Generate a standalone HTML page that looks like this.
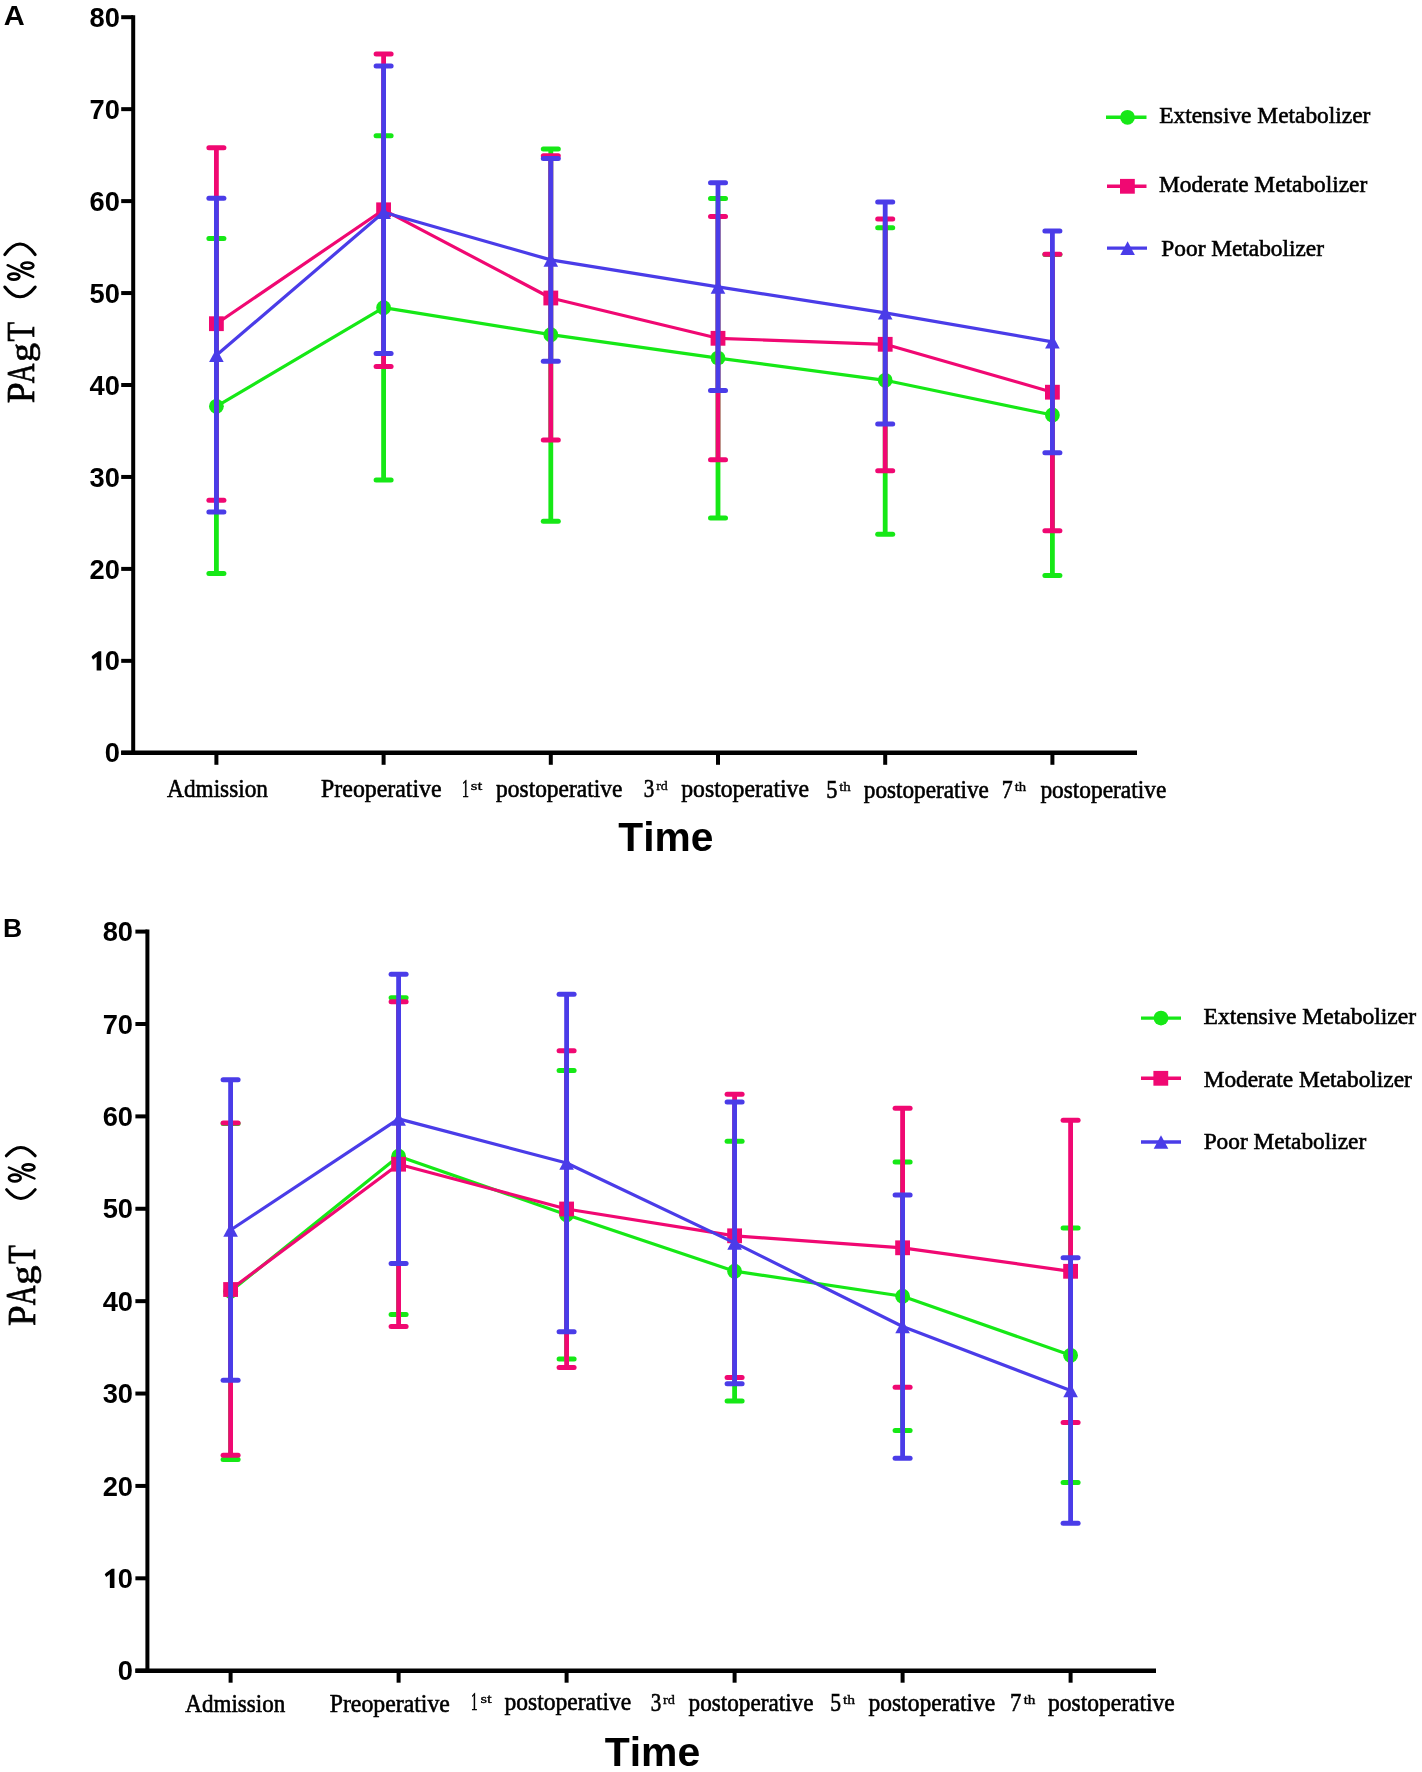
<!DOCTYPE html><html><head><meta charset="utf-8"><title>PAgT chart</title><style>html,body{margin:0;padding:0;background:#fff;}svg{display:block;filter:blur(0.35px);}text{font-kerning:none;font-variant-ligatures:none;}</style></head><body>
<svg width="1422" height="1772" viewBox="0 0 1422 1772">
<rect width="1422" height="1772" fill="#fff"/>
<g stroke="#000" stroke-width="4" fill="none">
<line x1="133.2" y1="15.2" x2="133.2" y2="754.8"/>
<line x1="121.2" y1="752.8" x2="1137" y2="752.8" stroke-width="4.6"/>
<line x1="121.2" y1="752.8" x2="133.2" y2="752.8"/>
<line x1="121.2" y1="660.85" x2="133.2" y2="660.85"/>
<line x1="121.2" y1="568.9" x2="133.2" y2="568.9"/>
<line x1="121.2" y1="476.95" x2="133.2" y2="476.95"/>
<line x1="121.2" y1="385" x2="133.2" y2="385"/>
<line x1="121.2" y1="293.05" x2="133.2" y2="293.05"/>
<line x1="121.2" y1="201.1" x2="133.2" y2="201.1"/>
<line x1="121.2" y1="109.15" x2="133.2" y2="109.15"/>
<line x1="121.2" y1="17.2" x2="133.2" y2="17.2"/>
<line x1="216.4" y1="752.8" x2="216.4" y2="764.8"/>
<line x1="383.6" y1="752.8" x2="383.6" y2="764.8"/>
<line x1="550.8" y1="752.8" x2="550.8" y2="764.8"/>
<line x1="718" y1="752.8" x2="718" y2="764.8"/>
<line x1="885.2" y1="752.8" x2="885.2" y2="764.8"/>
<line x1="1052.4" y1="752.8" x2="1052.4" y2="764.8"/>
</g>
<text transform="translate(104.64,762.4) scale(1.0000,1)" font-family='"Liberation Sans", sans-serif' font-weight="bold" font-size="27.3" fill="#000">0</text>
<text transform="translate(104.64,670.45) scale(1.0000,1)" font-family='"Liberation Sans", sans-serif' font-weight="bold" font-size="27.3" fill="#000">0</text>
<path d="M101.25,651.34 L101.25,670.45 L96.65,670.45 L96.65,656.74 L93.05,659.64 L91.55,656.94 L92.65,655.54 L98.65,651.34Z" fill="#000"/>
<text transform="translate(89.45,578.5) scale(1.0000,1)" font-family='"Liberation Sans", sans-serif' font-weight="bold" font-size="27.3" fill="#000">20</text>
<text transform="translate(89.45,486.55) scale(1.0000,1)" font-family='"Liberation Sans", sans-serif' font-weight="bold" font-size="27.3" fill="#000">30</text>
<text transform="translate(89.45,394.6) scale(1.0000,1)" font-family='"Liberation Sans", sans-serif' font-weight="bold" font-size="27.3" fill="#000">40</text>
<text transform="translate(89.45,302.65) scale(1.0000,1)" font-family='"Liberation Sans", sans-serif' font-weight="bold" font-size="27.3" fill="#000">50</text>
<text transform="translate(89.45,210.7) scale(1.0000,1)" font-family='"Liberation Sans", sans-serif' font-weight="bold" font-size="27.3" fill="#000">60</text>
<text transform="translate(89.45,118.75) scale(1.0000,1)" font-family='"Liberation Sans", sans-serif' font-weight="bold" font-size="27.3" fill="#000">70</text>
<text transform="translate(89.45,26.8) scale(1.0000,1)" font-family='"Liberation Sans", sans-serif' font-weight="bold" font-size="27.3" fill="#000">80</text>
<g>
<line x1="216.4" y1="238.5" x2="216.4" y2="573.4" stroke="#16e816" stroke-width="4.8"/>
<line x1="208.9" y1="238.5" x2="223.9" y2="238.5" stroke="#16e816" stroke-width="5" stroke-linecap="round"/>
<line x1="208.9" y1="573.4" x2="223.9" y2="573.4" stroke="#16e816" stroke-width="5" stroke-linecap="round"/>
<line x1="383.6" y1="135.7" x2="383.6" y2="480.1" stroke="#16e816" stroke-width="4.8"/>
<line x1="376.1" y1="135.7" x2="391.1" y2="135.7" stroke="#16e816" stroke-width="5" stroke-linecap="round"/>
<line x1="376.1" y1="480.1" x2="391.1" y2="480.1" stroke="#16e816" stroke-width="5" stroke-linecap="round"/>
<line x1="550.8" y1="149.1" x2="550.8" y2="521.2" stroke="#16e816" stroke-width="4.8"/>
<line x1="543.3" y1="149.1" x2="558.3" y2="149.1" stroke="#16e816" stroke-width="5" stroke-linecap="round"/>
<line x1="543.3" y1="521.2" x2="558.3" y2="521.2" stroke="#16e816" stroke-width="5" stroke-linecap="round"/>
<line x1="718" y1="198.4" x2="718" y2="517.9" stroke="#16e816" stroke-width="4.8"/>
<line x1="710.5" y1="198.4" x2="725.5" y2="198.4" stroke="#16e816" stroke-width="5" stroke-linecap="round"/>
<line x1="710.5" y1="517.9" x2="725.5" y2="517.9" stroke="#16e816" stroke-width="5" stroke-linecap="round"/>
<line x1="885.2" y1="227.7" x2="885.2" y2="534.3" stroke="#16e816" stroke-width="4.8"/>
<line x1="877.7" y1="227.7" x2="892.7" y2="227.7" stroke="#16e816" stroke-width="5" stroke-linecap="round"/>
<line x1="877.7" y1="534.3" x2="892.7" y2="534.3" stroke="#16e816" stroke-width="5" stroke-linecap="round"/>
<line x1="1052.4" y1="254.5" x2="1052.4" y2="575.5" stroke="#16e816" stroke-width="4.8"/>
<line x1="1044.9" y1="254.5" x2="1059.9" y2="254.5" stroke="#16e816" stroke-width="5" stroke-linecap="round"/>
<line x1="1044.9" y1="575.5" x2="1059.9" y2="575.5" stroke="#16e816" stroke-width="5" stroke-linecap="round"/>
<polyline points="216.4,406.3 383.6,307.7 550.8,334.7 718,358.1 885.2,380.3 1052.4,415" fill="none" stroke="#16e816" stroke-width="3.2" stroke-linejoin="round"/>
<circle cx="216.4" cy="406.3" r="7.4" fill="#16e816"/>
<circle cx="383.6" cy="307.7" r="7.4" fill="#16e816"/>
<circle cx="550.8" cy="334.7" r="7.4" fill="#16e816"/>
<circle cx="718" cy="358.1" r="7.4" fill="#16e816"/>
<circle cx="885.2" cy="380.3" r="7.4" fill="#16e816"/>
<circle cx="1052.4" cy="415" r="7.4" fill="#16e816"/>
</g>
<g>
<line x1="216.4" y1="147.7" x2="216.4" y2="500.3" stroke="#f00872" stroke-width="4.8"/>
<line x1="208.9" y1="147.7" x2="223.9" y2="147.7" stroke="#f00872" stroke-width="5" stroke-linecap="round"/>
<line x1="208.9" y1="500.3" x2="223.9" y2="500.3" stroke="#f00872" stroke-width="5" stroke-linecap="round"/>
<line x1="383.6" y1="53.9" x2="383.6" y2="366.4" stroke="#f00872" stroke-width="4.8"/>
<line x1="376.1" y1="53.9" x2="391.1" y2="53.9" stroke="#f00872" stroke-width="5" stroke-linecap="round"/>
<line x1="376.1" y1="366.4" x2="391.1" y2="366.4" stroke="#f00872" stroke-width="5" stroke-linecap="round"/>
<line x1="550.8" y1="155.7" x2="550.8" y2="440.1" stroke="#f00872" stroke-width="4.8"/>
<line x1="543.3" y1="155.7" x2="558.3" y2="155.7" stroke="#f00872" stroke-width="5" stroke-linecap="round"/>
<line x1="543.3" y1="440.1" x2="558.3" y2="440.1" stroke="#f00872" stroke-width="5" stroke-linecap="round"/>
<line x1="718" y1="216.5" x2="718" y2="459.8" stroke="#f00872" stroke-width="4.8"/>
<line x1="710.5" y1="216.5" x2="725.5" y2="216.5" stroke="#f00872" stroke-width="5" stroke-linecap="round"/>
<line x1="710.5" y1="459.8" x2="725.5" y2="459.8" stroke="#f00872" stroke-width="5" stroke-linecap="round"/>
<line x1="885.2" y1="218.9" x2="885.2" y2="470.7" stroke="#f00872" stroke-width="4.8"/>
<line x1="877.7" y1="218.9" x2="892.7" y2="218.9" stroke="#f00872" stroke-width="5" stroke-linecap="round"/>
<line x1="877.7" y1="470.7" x2="892.7" y2="470.7" stroke="#f00872" stroke-width="5" stroke-linecap="round"/>
<line x1="1052.4" y1="254.3" x2="1052.4" y2="530.8" stroke="#f00872" stroke-width="4.8"/>
<line x1="1044.9" y1="254.3" x2="1059.9" y2="254.3" stroke="#f00872" stroke-width="5" stroke-linecap="round"/>
<line x1="1044.9" y1="530.8" x2="1059.9" y2="530.8" stroke="#f00872" stroke-width="5" stroke-linecap="round"/>
<polyline points="216.4,323.7 383.6,209.8 550.8,298 718,338.3 885.2,344.3 1052.4,392.2" fill="none" stroke="#f00872" stroke-width="3.2" stroke-linejoin="round"/>
<rect x="209" y="316.3" width="14.8" height="14.8" fill="#f00872"/>
<rect x="376.2" y="202.4" width="14.8" height="14.8" fill="#f00872"/>
<rect x="543.4" y="290.6" width="14.8" height="14.8" fill="#f00872"/>
<rect x="710.6" y="330.9" width="14.8" height="14.8" fill="#f00872"/>
<rect x="877.8" y="336.9" width="14.8" height="14.8" fill="#f00872"/>
<rect x="1045" y="384.8" width="14.8" height="14.8" fill="#f00872"/>
</g>
<g>
<line x1="216.4" y1="198.3" x2="216.4" y2="512" stroke="#4a3ce8" stroke-width="4.8"/>
<line x1="208.9" y1="198.3" x2="223.9" y2="198.3" stroke="#4a3ce8" stroke-width="5" stroke-linecap="round"/>
<line x1="208.9" y1="512" x2="223.9" y2="512" stroke="#4a3ce8" stroke-width="5" stroke-linecap="round"/>
<line x1="383.6" y1="66.1" x2="383.6" y2="353.6" stroke="#4a3ce8" stroke-width="4.8"/>
<line x1="376.1" y1="66.1" x2="391.1" y2="66.1" stroke="#4a3ce8" stroke-width="5" stroke-linecap="round"/>
<line x1="376.1" y1="353.6" x2="391.1" y2="353.6" stroke="#4a3ce8" stroke-width="5" stroke-linecap="round"/>
<line x1="550.8" y1="158.6" x2="550.8" y2="361.2" stroke="#4a3ce8" stroke-width="4.8"/>
<line x1="543.3" y1="158.6" x2="558.3" y2="158.6" stroke="#4a3ce8" stroke-width="5" stroke-linecap="round"/>
<line x1="543.3" y1="361.2" x2="558.3" y2="361.2" stroke="#4a3ce8" stroke-width="5" stroke-linecap="round"/>
<line x1="718" y1="182.7" x2="718" y2="390.5" stroke="#4a3ce8" stroke-width="4.8"/>
<line x1="710.5" y1="182.7" x2="725.5" y2="182.7" stroke="#4a3ce8" stroke-width="5" stroke-linecap="round"/>
<line x1="710.5" y1="390.5" x2="725.5" y2="390.5" stroke="#4a3ce8" stroke-width="5" stroke-linecap="round"/>
<line x1="885.2" y1="202" x2="885.2" y2="424" stroke="#4a3ce8" stroke-width="4.8"/>
<line x1="877.7" y1="202" x2="892.7" y2="202" stroke="#4a3ce8" stroke-width="5" stroke-linecap="round"/>
<line x1="877.7" y1="424" x2="892.7" y2="424" stroke="#4a3ce8" stroke-width="5" stroke-linecap="round"/>
<line x1="1052.4" y1="231.1" x2="1052.4" y2="452.8" stroke="#4a3ce8" stroke-width="4.8"/>
<line x1="1044.9" y1="231.1" x2="1059.9" y2="231.1" stroke="#4a3ce8" stroke-width="5" stroke-linecap="round"/>
<line x1="1044.9" y1="452.8" x2="1059.9" y2="452.8" stroke="#4a3ce8" stroke-width="5" stroke-linecap="round"/>
<polyline points="216.4,355.2 383.6,212.3 550.8,259.9 718,286.9 885.2,312.8 1052.4,341.8" fill="none" stroke="#4a3ce8" stroke-width="3.2" stroke-linejoin="round"/>
<path d="M216.4,348.4 L223.7,362 L209.1,362Z" fill="#4a3ce8"/>
<path d="M383.6,205.5 L390.9,219.1 L376.3,219.1Z" fill="#4a3ce8"/>
<path d="M550.8,253.1 L558.1,266.7 L543.5,266.7Z" fill="#4a3ce8"/>
<path d="M718,280.1 L725.3,293.7 L710.7,293.7Z" fill="#4a3ce8"/>
<path d="M885.2,306 L892.5,319.6 L877.9,319.6Z" fill="#4a3ce8"/>
<path d="M1052.4,335 L1059.7,348.6 L1045.1,348.6Z" fill="#4a3ce8"/>
</g>
<g stroke="#000" stroke-width="4" fill="none">
<line x1="147.4" y1="929.6" x2="147.4" y2="1672.7"/>
<line x1="135.4" y1="1670.7" x2="1156" y2="1670.7" stroke-width="4.6"/>
<line x1="135.4" y1="1670.7" x2="147.4" y2="1670.7"/>
<line x1="135.4" y1="1578.31" x2="147.4" y2="1578.31"/>
<line x1="135.4" y1="1485.93" x2="147.4" y2="1485.93"/>
<line x1="135.4" y1="1393.54" x2="147.4" y2="1393.54"/>
<line x1="135.4" y1="1301.15" x2="147.4" y2="1301.15"/>
<line x1="135.4" y1="1208.76" x2="147.4" y2="1208.76"/>
<line x1="135.4" y1="1116.38" x2="147.4" y2="1116.38"/>
<line x1="135.4" y1="1023.99" x2="147.4" y2="1023.99"/>
<line x1="135.4" y1="931.6" x2="147.4" y2="931.6"/>
<line x1="230.6" y1="1670.7" x2="230.6" y2="1682.7"/>
<line x1="398.6" y1="1670.7" x2="398.6" y2="1682.7"/>
<line x1="566.6" y1="1670.7" x2="566.6" y2="1682.7"/>
<line x1="734.6" y1="1670.7" x2="734.6" y2="1682.7"/>
<line x1="902.6" y1="1670.7" x2="902.6" y2="1682.7"/>
<line x1="1070.6" y1="1670.7" x2="1070.6" y2="1682.7"/>
</g>
<text transform="translate(117.84,1680.3) scale(1.0000,1)" font-family='"Liberation Sans", sans-serif' font-weight="bold" font-size="27.3" fill="#000">0</text>
<text transform="translate(117.84,1587.91) scale(1.0000,1)" font-family='"Liberation Sans", sans-serif' font-weight="bold" font-size="27.3" fill="#000">0</text>
<path d="M114.45,1568.8 L114.45,1587.91 L109.85,1587.91 L109.85,1574.2 L106.25,1577.1 L104.75,1574.4 L105.85,1573 L111.85,1568.8Z" fill="#000"/>
<text transform="translate(102.65,1495.53) scale(1.0000,1)" font-family='"Liberation Sans", sans-serif' font-weight="bold" font-size="27.3" fill="#000">20</text>
<text transform="translate(102.65,1403.14) scale(1.0000,1)" font-family='"Liberation Sans", sans-serif' font-weight="bold" font-size="27.3" fill="#000">30</text>
<text transform="translate(102.65,1310.75) scale(1.0000,1)" font-family='"Liberation Sans", sans-serif' font-weight="bold" font-size="27.3" fill="#000">40</text>
<text transform="translate(102.65,1218.36) scale(1.0000,1)" font-family='"Liberation Sans", sans-serif' font-weight="bold" font-size="27.3" fill="#000">50</text>
<text transform="translate(102.65,1125.97) scale(1.0000,1)" font-family='"Liberation Sans", sans-serif' font-weight="bold" font-size="27.3" fill="#000">60</text>
<text transform="translate(102.65,1033.59) scale(1.0000,1)" font-family='"Liberation Sans", sans-serif' font-weight="bold" font-size="27.3" fill="#000">70</text>
<text transform="translate(102.65,941.2) scale(1.0000,1)" font-family='"Liberation Sans", sans-serif' font-weight="bold" font-size="27.3" fill="#000">80</text>
<g>
<line x1="230.6" y1="1123.4" x2="230.6" y2="1459.6" stroke="#16e816" stroke-width="4.8"/>
<line x1="223.1" y1="1123.4" x2="238.1" y2="1123.4" stroke="#16e816" stroke-width="5" stroke-linecap="round"/>
<line x1="223.1" y1="1459.6" x2="238.1" y2="1459.6" stroke="#16e816" stroke-width="5" stroke-linecap="round"/>
<line x1="398.6" y1="997.7" x2="398.6" y2="1314.6" stroke="#16e816" stroke-width="4.8"/>
<line x1="391.1" y1="997.7" x2="406.1" y2="997.7" stroke="#16e816" stroke-width="5" stroke-linecap="round"/>
<line x1="391.1" y1="1314.6" x2="406.1" y2="1314.6" stroke="#16e816" stroke-width="5" stroke-linecap="round"/>
<line x1="566.6" y1="1070.5" x2="566.6" y2="1359" stroke="#16e816" stroke-width="4.8"/>
<line x1="559.1" y1="1070.5" x2="574.1" y2="1070.5" stroke="#16e816" stroke-width="5" stroke-linecap="round"/>
<line x1="559.1" y1="1359" x2="574.1" y2="1359" stroke="#16e816" stroke-width="5" stroke-linecap="round"/>
<line x1="734.6" y1="1141.2" x2="734.6" y2="1401.1" stroke="#16e816" stroke-width="4.8"/>
<line x1="727.1" y1="1141.2" x2="742.1" y2="1141.2" stroke="#16e816" stroke-width="5" stroke-linecap="round"/>
<line x1="727.1" y1="1401.1" x2="742.1" y2="1401.1" stroke="#16e816" stroke-width="5" stroke-linecap="round"/>
<line x1="902.6" y1="1161.9" x2="902.6" y2="1430.6" stroke="#16e816" stroke-width="4.8"/>
<line x1="895.1" y1="1161.9" x2="910.1" y2="1161.9" stroke="#16e816" stroke-width="5" stroke-linecap="round"/>
<line x1="895.1" y1="1430.6" x2="910.1" y2="1430.6" stroke="#16e816" stroke-width="5" stroke-linecap="round"/>
<line x1="1070.6" y1="1228" x2="1070.6" y2="1482.6" stroke="#16e816" stroke-width="4.8"/>
<line x1="1063.1" y1="1228" x2="1078.1" y2="1228" stroke="#16e816" stroke-width="5" stroke-linecap="round"/>
<line x1="1063.1" y1="1482.6" x2="1078.1" y2="1482.6" stroke="#16e816" stroke-width="5" stroke-linecap="round"/>
<polyline points="230.6,1291.3 398.6,1156.2 566.6,1214.8 734.6,1271.2 902.6,1296.25 1070.6,1355.3" fill="none" stroke="#16e816" stroke-width="3.2" stroke-linejoin="round"/>
<circle cx="230.6" cy="1291.3" r="7.4" fill="#16e816"/>
<circle cx="398.6" cy="1156.2" r="7.4" fill="#16e816"/>
<circle cx="566.6" cy="1214.8" r="7.4" fill="#16e816"/>
<circle cx="734.6" cy="1271.2" r="7.4" fill="#16e816"/>
<circle cx="902.6" cy="1296.25" r="7.4" fill="#16e816"/>
<circle cx="1070.6" cy="1355.3" r="7.4" fill="#16e816"/>
</g>
<g>
<line x1="230.6" y1="1123.1" x2="230.6" y2="1455.2" stroke="#f00872" stroke-width="4.8"/>
<line x1="223.1" y1="1123.1" x2="238.1" y2="1123.1" stroke="#f00872" stroke-width="5" stroke-linecap="round"/>
<line x1="223.1" y1="1455.2" x2="238.1" y2="1455.2" stroke="#f00872" stroke-width="5" stroke-linecap="round"/>
<line x1="398.6" y1="1001.7" x2="398.6" y2="1326.6" stroke="#f00872" stroke-width="4.8"/>
<line x1="391.1" y1="1001.7" x2="406.1" y2="1001.7" stroke="#f00872" stroke-width="5" stroke-linecap="round"/>
<line x1="391.1" y1="1326.6" x2="406.1" y2="1326.6" stroke="#f00872" stroke-width="5" stroke-linecap="round"/>
<line x1="566.6" y1="1050.7" x2="566.6" y2="1367.4" stroke="#f00872" stroke-width="4.8"/>
<line x1="559.1" y1="1050.7" x2="574.1" y2="1050.7" stroke="#f00872" stroke-width="5" stroke-linecap="round"/>
<line x1="559.1" y1="1367.4" x2="574.1" y2="1367.4" stroke="#f00872" stroke-width="5" stroke-linecap="round"/>
<line x1="734.6" y1="1094.2" x2="734.6" y2="1377.4" stroke="#f00872" stroke-width="4.8"/>
<line x1="727.1" y1="1094.2" x2="742.1" y2="1094.2" stroke="#f00872" stroke-width="5" stroke-linecap="round"/>
<line x1="727.1" y1="1377.4" x2="742.1" y2="1377.4" stroke="#f00872" stroke-width="5" stroke-linecap="round"/>
<line x1="902.6" y1="1108.3" x2="902.6" y2="1387.3" stroke="#f00872" stroke-width="4.8"/>
<line x1="895.1" y1="1108.3" x2="910.1" y2="1108.3" stroke="#f00872" stroke-width="5" stroke-linecap="round"/>
<line x1="895.1" y1="1387.3" x2="910.1" y2="1387.3" stroke="#f00872" stroke-width="5" stroke-linecap="round"/>
<line x1="1070.6" y1="1120.2" x2="1070.6" y2="1422.4" stroke="#f00872" stroke-width="4.8"/>
<line x1="1063.1" y1="1120.2" x2="1078.1" y2="1120.2" stroke="#f00872" stroke-width="5" stroke-linecap="round"/>
<line x1="1063.1" y1="1422.4" x2="1078.1" y2="1422.4" stroke="#f00872" stroke-width="5" stroke-linecap="round"/>
<polyline points="230.6,1289.5 398.6,1164.2 566.6,1209 734.6,1235.8 902.6,1247.8 1070.6,1271.3" fill="none" stroke="#f00872" stroke-width="3.2" stroke-linejoin="round"/>
<rect x="223.2" y="1282.1" width="14.8" height="14.8" fill="#f00872"/>
<rect x="391.2" y="1156.8" width="14.8" height="14.8" fill="#f00872"/>
<rect x="559.2" y="1201.6" width="14.8" height="14.8" fill="#f00872"/>
<rect x="727.2" y="1228.4" width="14.8" height="14.8" fill="#f00872"/>
<rect x="895.2" y="1240.4" width="14.8" height="14.8" fill="#f00872"/>
<rect x="1063.2" y="1263.9" width="14.8" height="14.8" fill="#f00872"/>
</g>
<g>
<line x1="230.6" y1="1079.8" x2="230.6" y2="1380.3" stroke="#4a3ce8" stroke-width="4.8"/>
<line x1="223.1" y1="1079.8" x2="238.1" y2="1079.8" stroke="#4a3ce8" stroke-width="5" stroke-linecap="round"/>
<line x1="223.1" y1="1380.3" x2="238.1" y2="1380.3" stroke="#4a3ce8" stroke-width="5" stroke-linecap="round"/>
<line x1="398.6" y1="974.2" x2="398.6" y2="1263.5" stroke="#4a3ce8" stroke-width="4.8"/>
<line x1="391.1" y1="974.2" x2="406.1" y2="974.2" stroke="#4a3ce8" stroke-width="5" stroke-linecap="round"/>
<line x1="391.1" y1="1263.5" x2="406.1" y2="1263.5" stroke="#4a3ce8" stroke-width="5" stroke-linecap="round"/>
<line x1="566.6" y1="994.2" x2="566.6" y2="1331.7" stroke="#4a3ce8" stroke-width="4.8"/>
<line x1="559.1" y1="994.2" x2="574.1" y2="994.2" stroke="#4a3ce8" stroke-width="5" stroke-linecap="round"/>
<line x1="559.1" y1="1331.7" x2="574.1" y2="1331.7" stroke="#4a3ce8" stroke-width="5" stroke-linecap="round"/>
<line x1="734.6" y1="1102" x2="734.6" y2="1383.8" stroke="#4a3ce8" stroke-width="4.8"/>
<line x1="727.1" y1="1102" x2="742.1" y2="1102" stroke="#4a3ce8" stroke-width="5" stroke-linecap="round"/>
<line x1="727.1" y1="1383.8" x2="742.1" y2="1383.8" stroke="#4a3ce8" stroke-width="5" stroke-linecap="round"/>
<line x1="902.6" y1="1194.9" x2="902.6" y2="1458.2" stroke="#4a3ce8" stroke-width="4.8"/>
<line x1="895.1" y1="1194.9" x2="910.1" y2="1194.9" stroke="#4a3ce8" stroke-width="5" stroke-linecap="round"/>
<line x1="895.1" y1="1458.2" x2="910.1" y2="1458.2" stroke="#4a3ce8" stroke-width="5" stroke-linecap="round"/>
<line x1="1070.6" y1="1257.7" x2="1070.6" y2="1523.2" stroke="#4a3ce8" stroke-width="4.8"/>
<line x1="1063.1" y1="1257.7" x2="1078.1" y2="1257.7" stroke="#4a3ce8" stroke-width="5" stroke-linecap="round"/>
<line x1="1063.1" y1="1523.2" x2="1078.1" y2="1523.2" stroke="#4a3ce8" stroke-width="5" stroke-linecap="round"/>
<polyline points="230.6,1230 398.6,1118.9 566.6,1163 734.6,1242.9 902.6,1326.55 1070.6,1390.45" fill="none" stroke="#4a3ce8" stroke-width="3.2" stroke-linejoin="round"/>
<path d="M230.6,1223.2 L237.9,1236.8 L223.3,1236.8Z" fill="#4a3ce8"/>
<path d="M398.6,1112.1 L405.9,1125.7 L391.3,1125.7Z" fill="#4a3ce8"/>
<path d="M566.6,1156.2 L573.9,1169.8 L559.3,1169.8Z" fill="#4a3ce8"/>
<path d="M734.6,1236.1 L741.9,1249.7 L727.3,1249.7Z" fill="#4a3ce8"/>
<path d="M902.6,1319.75 L909.9,1333.35 L895.3,1333.35Z" fill="#4a3ce8"/>
<path d="M1070.6,1383.65 L1077.9,1397.25 L1063.3,1397.25Z" fill="#4a3ce8"/>
</g>
<text transform="translate(3.68,24.8) scale(1.0569,1)" font-family='"Liberation Sans", sans-serif' font-weight="bold" font-size="27.5" fill="#000">A</text>
<text transform="translate(3.12,937.3) scale(0.9986,1)" font-family='"Liberation Sans", sans-serif' font-weight="bold" font-size="26.6" fill="#000">B</text>
<text transform="translate(167.07,796.5) scale(0.9320,1)" font-family='"Liberation Serif", serif' font-weight="normal" font-size="25" fill="#000" stroke="#000" stroke-width="0.6">Admission</text>
<text transform="translate(321.11,796.7) scale(0.9540,1)" font-family='"Liberation Serif", serif' font-weight="normal" font-size="25" fill="#000" stroke="#000" stroke-width="0.6">Preoperative</text>
<text transform="translate(461.98,796.6) scale(0.5567,1)" font-family='"Liberation Serif", serif' font-weight="normal" font-size="25" fill="#000" stroke="#000" stroke-width="0.6">1</text>
<text transform="translate(496.12,796.6) scale(0.9370,1)" font-family='"Liberation Serif", serif' font-weight="normal" font-size="25" fill="#000" stroke="#000" stroke-width="0.6">postoperative</text>
<text transform="translate(643.79,796.9) scale(0.8424,1)" font-family='"Liberation Serif", serif' font-weight="normal" font-size="25" fill="#000" stroke="#000" stroke-width="0.6">3</text>
<text transform="translate(681.22,796.9) scale(0.9489,1)" font-family='"Liberation Serif", serif' font-weight="normal" font-size="25" fill="#000" stroke="#000" stroke-width="0.6">postoperative</text>
<text transform="translate(826.3,798.2) scale(0.8937,1)" font-family='"Liberation Serif", serif' font-weight="normal" font-size="25" fill="#000" stroke="#000" stroke-width="0.6">5</text>
<text transform="translate(863.83,798.2) scale(0.9280,1)" font-family='"Liberation Serif", serif' font-weight="normal" font-size="25" fill="#000" stroke="#000" stroke-width="0.6">postoperative</text>
<text transform="translate(1001.75,798.3) scale(0.8784,1)" font-family='"Liberation Serif", serif' font-weight="normal" font-size="25" fill="#000" stroke="#000" stroke-width="0.6">7</text>
<text transform="translate(1040.42,798.3) scale(0.9347,1)" font-family='"Liberation Serif", serif' font-weight="normal" font-size="25" fill="#000" stroke="#000" stroke-width="0.6">postoperative</text>
<text transform="translate(470.77,789.9) scale(1.2722,1)" font-family='"Liberation Serif", serif' font-weight="normal" font-size="13.5" fill="#000" stroke="#000" stroke-width="0.35">st</text>
<text transform="translate(656.2,789.7) scale(1.0314,1)" font-family='"Liberation Serif", serif' font-weight="normal" font-size="13.5" fill="#000" stroke="#000" stroke-width="0.35">rd</text>
<text transform="translate(839.13,791.3) scale(1.1039,1)" font-family='"Liberation Serif", serif' font-weight="normal" font-size="13.5" fill="#000" stroke="#000" stroke-width="0.35">th</text>
<text transform="translate(1014.73,791.3) scale(1.0941,1)" font-family='"Liberation Serif", serif' font-weight="normal" font-size="13.5" fill="#000" stroke="#000" stroke-width="0.35">th</text>
<text transform="translate(185.37,1712.2) scale(0.9218,1)" font-family='"Liberation Serif", serif' font-weight="normal" font-size="25" fill="#000" stroke="#000" stroke-width="0.6">Admission</text>
<text transform="translate(329.71,1712.3) scale(0.9516,1)" font-family='"Liberation Serif", serif' font-weight="normal" font-size="25" fill="#000" stroke="#000" stroke-width="0.6">Preoperative</text>
<text transform="translate(471.05,1710) scale(0.5227,1)" font-family='"Liberation Serif", serif' font-weight="normal" font-size="25" fill="#000" stroke="#000" stroke-width="0.6">1</text>
<text transform="translate(504.52,1710) scale(0.9415,1)" font-family='"Liberation Serif", serif' font-weight="normal" font-size="25" fill="#000" stroke="#000" stroke-width="0.6">postoperative</text>
<text transform="translate(650.69,1711.1) scale(0.8424,1)" font-family='"Liberation Serif", serif' font-weight="normal" font-size="25" fill="#000" stroke="#000" stroke-width="0.6">3</text>
<text transform="translate(688.53,1711.1) scale(0.9280,1)" font-family='"Liberation Serif", serif' font-weight="normal" font-size="25" fill="#000" stroke="#000" stroke-width="0.6">postoperative</text>
<text transform="translate(830.25,1711.2) scale(0.8639,1)" font-family='"Liberation Serif", serif' font-weight="normal" font-size="25" fill="#000" stroke="#000" stroke-width="0.6">5</text>
<text transform="translate(868.42,1711.2) scale(0.9422,1)" font-family='"Liberation Serif", serif' font-weight="normal" font-size="25" fill="#000" stroke="#000" stroke-width="0.6">postoperative</text>
<text transform="translate(1010,1711.2) scale(0.9080,1)" font-family='"Liberation Serif", serif' font-weight="normal" font-size="25" fill="#000" stroke="#000" stroke-width="0.6">7</text>
<text transform="translate(1048.02,1711.2) scale(0.9415,1)" font-family='"Liberation Serif", serif' font-weight="normal" font-size="25" fill="#000" stroke="#000" stroke-width="0.6">postoperative</text>
<text transform="translate(480.48,1703) scale(1.2483,1)" font-family='"Liberation Serif", serif' font-weight="normal" font-size="13.5" fill="#000" stroke="#000" stroke-width="0.35">st</text>
<text transform="translate(663.09,1704.1) scale(1.0592,1)" font-family='"Liberation Serif", serif' font-weight="normal" font-size="13.5" fill="#000" stroke="#000" stroke-width="0.35">rd</text>
<text transform="translate(843.02,1704.2) scale(1.1530,1)" font-family='"Liberation Serif", serif' font-weight="normal" font-size="13.5" fill="#000" stroke="#000" stroke-width="0.35">th</text>
<text transform="translate(1023.63,1704.2) scale(1.1235,1)" font-family='"Liberation Serif", serif' font-weight="normal" font-size="13.5" fill="#000" stroke="#000" stroke-width="0.35">th</text>
<text transform="translate(618.24,851.1) scale(0.9943,1)" font-family='"Liberation Sans", sans-serif' font-weight="bold" font-size="41" fill="#000">Time</text>
<text transform="translate(604.64,1765.7) scale(0.9986,1)" font-family='"Liberation Sans", sans-serif' font-weight="bold" font-size="41" fill="#000">Time</text>
<line x1="1106" y1="117.3" x2="1146.5" y2="117.3" stroke="#16e816" stroke-width="3.4"/>
<circle cx="1127.5" cy="117.3" r="7.4" fill="#16e816"/>
<text transform="translate(1159.23,123.3) scale(0.9963,1)" font-family='"Liberation Serif", serif' font-weight="normal" font-size="23.5" fill="#000" stroke="#000" stroke-width="0.6">Extensive Metabolizer</text>
<line x1="1107" y1="186.3" x2="1146.5" y2="186.3" stroke="#f00872" stroke-width="3.4"/>
<rect x="1120" y="178.9" width="14.8" height="14.8" fill="#f00872"/>
<text transform="translate(1158.93,191.9) scale(0.9949,1)" font-family='"Liberation Serif", serif' font-weight="normal" font-size="23.5" fill="#000" stroke="#000" stroke-width="0.6">Moderate Metabolizer</text>
<line x1="1107" y1="248.1" x2="1147" y2="248.1" stroke="#4a3ce8" stroke-width="3.4"/>
<path d="M1127.6,241.3 L1134.9,254.9 L1120.3,254.9Z" fill="#4a3ce8"/>
<text transform="translate(1161.33,255.7) scale(0.9938,1)" font-family='"Liberation Serif", serif' font-weight="normal" font-size="23.5" fill="#000" stroke="#000" stroke-width="0.6">Poor Metabolizer</text>
<line x1="1141" y1="1018.1" x2="1181" y2="1018.1" stroke="#16e816" stroke-width="3.4"/>
<circle cx="1161" cy="1018.1" r="7.4" fill="#16e816"/>
<text transform="translate(1203.62,1024.4) scale(1.0019,1)" font-family='"Liberation Serif", serif' font-weight="normal" font-size="23.5" fill="#000" stroke="#000" stroke-width="0.6">Extensive Metabolizer</text>
<line x1="1141" y1="1078.3" x2="1181" y2="1078.3" stroke="#f00872" stroke-width="3.4"/>
<rect x="1153.4" y="1070.9" width="14.8" height="14.8" fill="#f00872"/>
<text transform="translate(1203.63,1087.1) scale(0.9944,1)" font-family='"Liberation Serif", serif' font-weight="normal" font-size="23.5" fill="#000" stroke="#000" stroke-width="0.6">Moderate Metabolizer</text>
<line x1="1141" y1="1142" x2="1181" y2="1142" stroke="#4a3ce8" stroke-width="3.4"/>
<path d="M1161,1135.2 L1168.3,1148.8 L1153.7,1148.8Z" fill="#4a3ce8"/>
<text transform="translate(1203.63,1149.4) scale(0.9925,1)" font-family='"Liberation Serif", serif' font-weight="normal" font-size="23.5" fill="#000" stroke="#000" stroke-width="0.6">Poor Metabolizer</text>
<text transform="translate(33.7,403.29) rotate(-90) scale(0.9055,0.9705)" font-family='"Liberation Serif", serif' font-size="41.7" fill="#000" stroke="#000" stroke-width="0.8">P</text>
<text transform="translate(33.7,383.27) rotate(-90) scale(0.6564,0.9844)" font-family='"Liberation Serif", serif' font-size="41.7" fill="#000" stroke="#000" stroke-width="0.8">A</text>
<text transform="translate(33.09,362.04) rotate(-90) scale(0.9144,0.7895)" font-family='"Liberation Serif", serif' font-size="41.7" fill="#000" stroke="#000" stroke-width="0.8">g</text>
<text transform="translate(33.7,341.48) rotate(-90) scale(0.7658,0.9815)" font-family='"Liberation Serif", serif' font-size="41.7" fill="#000" stroke="#000" stroke-width="0.8">T</text>
<ellipse cx="27.4" cy="265.6" rx="5.95" ry="3.1" fill="none" stroke="#000" stroke-width="2.7"/>
<ellipse cx="13.8" cy="276.6" rx="5.6" ry="3" fill="none" stroke="#000" stroke-width="2.7"/>
<line x1="7.6" y1="265.2" x2="33.2" y2="276.9" stroke="#000" stroke-width="2.4" stroke-linecap="round"/>
<path d="M4.8,254.6 Q20,233.4 35.2,254.6" fill="none" stroke="#000" stroke-width="3.0" stroke-linecap="round"/>
<path d="M4.8,287 Q20,306.6 35.2,287" fill="none" stroke="#000" stroke-width="3.0" stroke-linecap="round"/>
<text transform="translate(35.2,1325.97) rotate(-90) scale(0.8907,0.9742)" font-family='"Liberation Serif", serif' font-size="41.7" fill="#000" stroke="#000" stroke-width="0.8">P</text>
<text transform="translate(35.2,1305.37) rotate(-90) scale(0.6530,0.9881)" font-family='"Liberation Serif", serif' font-size="41.7" fill="#000" stroke="#000" stroke-width="0.8">A</text>
<text transform="translate(34.27,1284.76) rotate(-90) scale(0.9253,0.7928)" font-family='"Liberation Serif", serif' font-size="41.7" fill="#000" stroke="#000" stroke-width="0.8">g</text>
<text transform="translate(35.2,1263.65) rotate(-90) scale(0.7284,0.9852)" font-family='"Liberation Serif", serif' font-size="41.7" fill="#000" stroke="#000" stroke-width="0.8">T</text>
<ellipse cx="28.5" cy="1167.4" rx="5.95" ry="3" fill="none" stroke="#000" stroke-width="2.7"/>
<ellipse cx="14.8" cy="1178" rx="5.85" ry="3.4" fill="none" stroke="#000" stroke-width="2.7"/>
<line x1="8.9" y1="1167.5" x2="34.5" y2="1178.5" stroke="#000" stroke-width="2.4" stroke-linecap="round"/>
<path d="M6.3,1155.8 Q20.75,1139 35.2,1155.8" fill="none" stroke="#000" stroke-width="3.0" stroke-linecap="round"/>
<path d="M6.6,1189.6 Q20.9,1207.2 35.2,1189.6" fill="none" stroke="#000" stroke-width="3.0" stroke-linecap="round"/>
</svg></body></html>
